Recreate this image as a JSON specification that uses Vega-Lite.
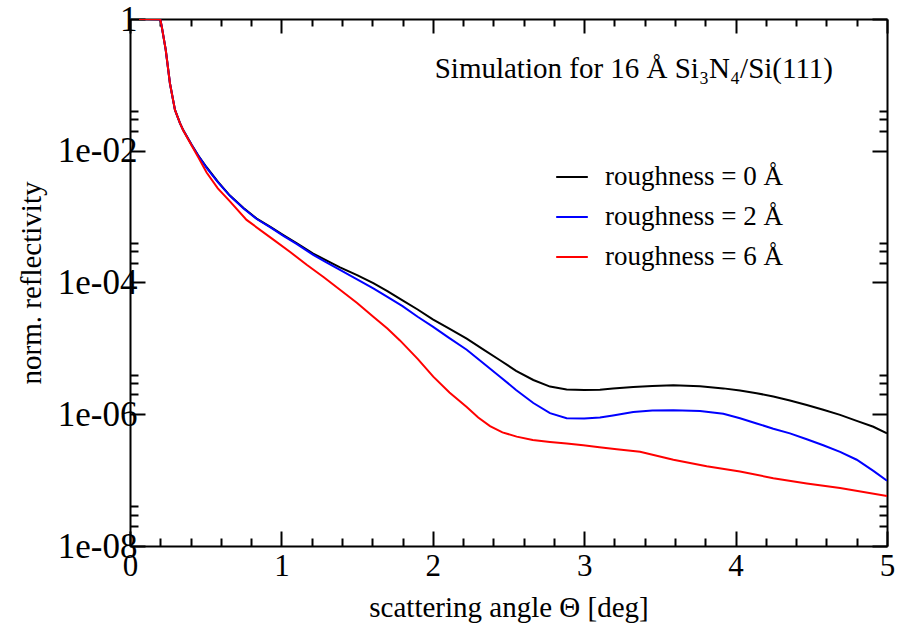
{
  "$schema": "https://vega.github.io/schema/vega-lite/v6.json",
  "width": 757,
  "height": 527,
  "autosize": {"type": "none"},
  "padding": {"left": 130, "top": 19, "right": 12, "bottom": 79},
  "config": {
    "font": "Liberation Serif",
    "view": {"stroke": null},
    "axis": {
      "domainColor": "black", "domainWidth": 2, "tickColor": "black", "tickWidth": 2,
      "labelColor": "black", "labelFont": "Liberation Serif", "labelFontSize": 29,
      "titleColor": "black", "titleFont": "Liberation Serif", "titleFontSize": 29, "titleFontWeight": "normal",
      "grid": false, "labelOverlap": false, "labelFlush": false
    }
  },
  "title": {
    "text": "Simulation for 16 Å Si₃N₄/Si(111)",
    "orient": "top", "anchor": "end", "frame": "group",
    "font": "Liberation Serif", "fontSize": 29, "fontWeight": "normal", "color": "black",
    "baseline": "alphabetic", "offset": 0, "dx": -54, "dy": 105
  },
  "data": {"values": [
    {"s": "roughness = 0 Å", "x": 0.06, "R": 1},
    {"s": "roughness = 0 Å", "x": 0.2, "R": 0.99},
    {"s": "roughness = 0 Å", "x": 0.21, "R": 0.76},
    {"s": "roughness = 0 Å", "x": 0.236, "R": 0.339},
    {"s": "roughness = 0 Å", "x": 0.264, "R": 0.105},
    {"s": "roughness = 0 Å", "x": 0.297, "R": 0.0417},
    {"s": "roughness = 0 Å", "x": 0.33, "R": 0.0263},
    {"s": "roughness = 0 Å", "x": 0.352, "R": 0.0204},
    {"s": "roughness = 0 Å", "x": 0.407, "R": 0.0123},
    {"s": "roughness = 0 Å", "x": 0.45, "R": 0.00851},
    {"s": "roughness = 0 Å", "x": 0.506, "R": 5.62e-3},
    {"s": "roughness = 0 Å", "x": 0.58, "R": 3.39e-3},
    {"s": "roughness = 0 Å", "x": 0.66, "R": 2.09e-3},
    {"s": "roughness = 0 Å", "x": 0.75, "R": 1.35e-3},
    {"s": "roughness = 0 Å", "x": 0.837, "R": 9.33e-4},
    {"s": "roughness = 0 Å", "x": 0.93, "R": 6.92e-4},
    {"s": "roughness = 0 Å", "x": 1.013, "R": 5.25e-4},
    {"s": "roughness = 0 Å", "x": 1.1, "R": 3.98e-4},
    {"s": "roughness = 0 Å", "x": 1.21, "R": 2.75e-4},
    {"s": "roughness = 0 Å", "x": 1.3, "R": 2.14e-4},
    {"s": "roughness = 0 Å", "x": 1.387, "R": 1.70e-4},
    {"s": "roughness = 0 Å", "x": 1.5, "R": 1.29e-4},
    {"s": "roughness = 0 Å", "x": 1.607, "R": 9.77e-5},
    {"s": "roughness = 0 Å", "x": 1.7, "R": 7.41e-5},
    {"s": "roughness = 0 Å", "x": 1.8, "R": 5.37e-5},
    {"s": "roughness = 0 Å", "x": 1.9, "R": 3.89e-5},
    {"s": "roughness = 0 Å", "x": 2.0, "R": 2.75e-5},
    {"s": "roughness = 0 Å", "x": 2.1, "R": 2.04e-5},
    {"s": "roughness = 0 Å", "x": 2.224, "R": 1.41e-5},
    {"s": "roughness = 0 Å", "x": 2.33, "R": 9.77e-6},
    {"s": "roughness = 0 Å", "x": 2.444, "R": 6.61e-6},
    {"s": "roughness = 0 Å", "x": 2.55, "R": 4.57e-6},
    {"s": "roughness = 0 Å", "x": 2.664, "R": 3.31e-6},
    {"s": "roughness = 0 Å", "x": 2.774, "R": 2.63e-6},
    {"s": "roughness = 0 Å", "x": 2.884, "R": 2.38e-6},
    {"s": "roughness = 0 Å", "x": 3.0, "R": 2.33e-6},
    {"s": "roughness = 0 Å", "x": 3.104, "R": 2.36e-6},
    {"s": "roughness = 0 Å", "x": 3.19, "R": 2.45e-6},
    {"s": "roughness = 0 Å", "x": 3.324, "R": 2.6e-6},
    {"s": "roughness = 0 Å", "x": 3.45, "R": 2.69e-6},
    {"s": "roughness = 0 Å", "x": 3.589, "R": 2.75e-6},
    {"s": "roughness = 0 Å", "x": 3.765, "R": 2.66e-6},
    {"s": "roughness = 0 Å", "x": 3.919, "R": 2.47e-6},
    {"s": "roughness = 0 Å", "x": 4.029, "R": 2.29e-6},
    {"s": "roughness = 0 Å", "x": 4.139, "R": 2.09e-6},
    {"s": "roughness = 0 Å", "x": 4.249, "R": 1.86e-6},
    {"s": "roughness = 0 Å", "x": 4.359, "R": 1.62e-6},
    {"s": "roughness = 0 Å", "x": 4.47, "R": 1.38e-6},
    {"s": "roughness = 0 Å", "x": 4.579, "R": 1.17e-6},
    {"s": "roughness = 0 Å", "x": 4.69, "R": 9.77e-7},
    {"s": "roughness = 0 Å", "x": 4.8, "R": 7.94e-7},
    {"s": "roughness = 0 Å", "x": 4.91, "R": 6.46e-7},
    {"s": "roughness = 0 Å", "x": 5.0, "R": 5.13e-7},

    {"s": "roughness = 2 Å", "x": 0.06, "R": 1},
    {"s": "roughness = 2 Å", "x": 0.2, "R": 0.99},
    {"s": "roughness = 2 Å", "x": 0.21, "R": 0.76},
    {"s": "roughness = 2 Å", "x": 0.236, "R": 0.339},
    {"s": "roughness = 2 Å", "x": 0.264, "R": 0.105},
    {"s": "roughness = 2 Å", "x": 0.297, "R": 0.0417},
    {"s": "roughness = 2 Å", "x": 0.33, "R": 0.0263},
    {"s": "roughness = 2 Å", "x": 0.352, "R": 0.0204},
    {"s": "roughness = 2 Å", "x": 0.407, "R": 0.0123},
    {"s": "roughness = 2 Å", "x": 0.45, "R": 0.00845},
    {"s": "roughness = 2 Å", "x": 0.506, "R": 5.50e-3},
    {"s": "roughness = 2 Å", "x": 0.58, "R": 3.35e-3},
    {"s": "roughness = 2 Å", "x": 0.66, "R": 2.07e-3},
    {"s": "roughness = 2 Å", "x": 0.75, "R": 1.33e-3},
    {"s": "roughness = 2 Å", "x": 0.837, "R": 9.2e-4},
    {"s": "roughness = 2 Å", "x": 0.93, "R": 6.8e-4},
    {"s": "roughness = 2 Å", "x": 1.013, "R": 5.1e-4},
    {"s": "roughness = 2 Å", "x": 1.1, "R": 3.85e-4},
    {"s": "roughness = 2 Å", "x": 1.21, "R": 2.63e-4},
    {"s": "roughness = 2 Å", "x": 1.3, "R": 2.0e-4},
    {"s": "roughness = 2 Å", "x": 1.387, "R": 1.55e-4},
    {"s": "roughness = 2 Å", "x": 1.5, "R": 1.12e-4},
    {"s": "roughness = 2 Å", "x": 1.607, "R": 8.13e-5},
    {"s": "roughness = 2 Å", "x": 1.7, "R": 6.03e-5},
    {"s": "roughness = 2 Å", "x": 1.8, "R": 4.37e-5},
    {"s": "roughness = 2 Å", "x": 1.9, "R": 3.02e-5},
    {"s": "roughness = 2 Å", "x": 2.0, "R": 2.14e-5},
    {"s": "roughness = 2 Å", "x": 2.1, "R": 1.48e-5},
    {"s": "roughness = 2 Å", "x": 2.224, "R": 9.55e-6},
    {"s": "roughness = 2 Å", "x": 2.33, "R": 6.03e-6},
    {"s": "roughness = 2 Å", "x": 2.444, "R": 3.72e-6},
    {"s": "roughness = 2 Å", "x": 2.55, "R": 2.34e-6},
    {"s": "roughness = 2 Å", "x": 2.664, "R": 1.48e-6},
    {"s": "roughness = 2 Å", "x": 2.774, "R": 1.04e-6},
    {"s": "roughness = 2 Å", "x": 2.884, "R": 8.71e-7},
    {"s": "roughness = 2 Å", "x": 3.0, "R": 8.6e-7},
    {"s": "roughness = 2 Å", "x": 3.104, "R": 8.91e-7},
    {"s": "roughness = 2 Å", "x": 3.19, "R": 9.6e-7},
    {"s": "roughness = 2 Å", "x": 3.324, "R": 1.08e-6},
    {"s": "roughness = 2 Å", "x": 3.45, "R": 1.14e-6},
    {"s": "roughness = 2 Å", "x": 3.589, "R": 1.15e-6},
    {"s": "roughness = 2 Å", "x": 3.765, "R": 1.12e-6},
    {"s": "roughness = 2 Å", "x": 3.919, "R": 1.02e-6},
    {"s": "roughness = 2 Å", "x": 4.029, "R": 8.71e-7},
    {"s": "roughness = 2 Å", "x": 4.139, "R": 7.24e-7},
    {"s": "roughness = 2 Å", "x": 4.249, "R": 6.03e-7},
    {"s": "roughness = 2 Å", "x": 4.359, "R": 5.13e-7},
    {"s": "roughness = 2 Å", "x": 4.47, "R": 4.17e-7},
    {"s": "roughness = 2 Å", "x": 4.579, "R": 3.39e-7},
    {"s": "roughness = 2 Å", "x": 4.69, "R": 2.69e-7},
    {"s": "roughness = 2 Å", "x": 4.8, "R": 2.04e-7},
    {"s": "roughness = 2 Å", "x": 4.91, "R": 1.38e-7},
    {"s": "roughness = 2 Å", "x": 5.0, "R": 9.77e-8},

    {"s": "roughness = 6 Å", "x": 0.06, "R": 1},
    {"s": "roughness = 6 Å", "x": 0.2, "R": 0.99},
    {"s": "roughness = 6 Å", "x": 0.21, "R": 0.76},
    {"s": "roughness = 6 Å", "x": 0.236, "R": 0.339},
    {"s": "roughness = 6 Å", "x": 0.264, "R": 0.105},
    {"s": "roughness = 6 Å", "x": 0.297, "R": 0.0417},
    {"s": "roughness = 6 Å", "x": 0.33, "R": 0.0263},
    {"s": "roughness = 6 Å", "x": 0.352, "R": 0.0203},
    {"s": "roughness = 6 Å", "x": 0.407, "R": 0.0120},
    {"s": "roughness = 6 Å", "x": 0.45, "R": 0.0080},
    {"s": "roughness = 6 Å", "x": 0.506, "R": 4.68e-3},
    {"s": "roughness = 6 Å", "x": 0.58, "R": 2.69e-3},
    {"s": "roughness = 6 Å", "x": 0.66, "R": 1.70e-3},
    {"s": "roughness = 6 Å", "x": 0.77, "R": 8.91e-4},
    {"s": "roughness = 6 Å", "x": 0.947, "R": 4.47e-4},
    {"s": "roughness = 6 Å", "x": 1.06, "R": 2.88e-4},
    {"s": "roughness = 6 Å", "x": 1.167, "R": 1.86e-4},
    {"s": "roughness = 6 Å", "x": 1.28, "R": 1.20e-4},
    {"s": "roughness = 6 Å", "x": 1.387, "R": 7.76e-5},
    {"s": "roughness = 6 Å", "x": 1.5, "R": 4.90e-5},
    {"s": "roughness = 6 Å", "x": 1.607, "R": 3.02e-5},
    {"s": "roughness = 6 Å", "x": 1.7, "R": 2.0e-5},
    {"s": "roughness = 6 Å", "x": 1.783, "R": 1.32e-5},
    {"s": "roughness = 6 Å", "x": 1.9, "R": 6.92e-6},
    {"s": "roughness = 6 Å", "x": 2.003, "R": 3.72e-6},
    {"s": "roughness = 6 Å", "x": 2.11, "R": 2.14e-6},
    {"s": "roughness = 6 Å", "x": 2.224, "R": 1.29e-6},
    {"s": "roughness = 6 Å", "x": 2.3, "R": 8.91e-7},
    {"s": "roughness = 6 Å", "x": 2.378, "R": 6.6e-7},
    {"s": "roughness = 6 Å", "x": 2.46, "R": 5.3e-7},
    {"s": "roughness = 6 Å", "x": 2.554, "R": 4.57e-7},
    {"s": "roughness = 6 Å", "x": 2.66, "R": 4.07e-7},
    {"s": "roughness = 6 Å", "x": 2.774, "R": 3.80e-7},
    {"s": "roughness = 6 Å", "x": 2.884, "R": 3.59e-7},
    {"s": "roughness = 6 Å", "x": 2.994, "R": 3.39e-7},
    {"s": "roughness = 6 Å", "x": 3.1, "R": 3.16e-7},
    {"s": "roughness = 6 Å", "x": 3.215, "R": 2.95e-7},
    {"s": "roughness = 6 Å", "x": 3.369, "R": 2.69e-7},
    {"s": "roughness = 6 Å", "x": 3.589, "R": 2.04e-7},
    {"s": "roughness = 6 Å", "x": 3.809, "R": 1.62e-7},
    {"s": "roughness = 6 Å", "x": 4.029, "R": 1.35e-7},
    {"s": "roughness = 6 Å", "x": 4.249, "R": 1.07e-7},
    {"s": "roughness = 6 Å", "x": 4.47, "R": 8.91e-8},
    {"s": "roughness = 6 Å", "x": 4.69, "R": 7.59e-8},
    {"s": "roughness = 6 Å", "x": 5.0, "R": 5.75e-8}
  ]},
  "resolve": {"axis": {"x": "independent", "y": "independent"}},
  "layer": [
    {
      "mark": {"type": "line", "strokeWidth": 2, "clip": true},
      "encoding": {
        "x": {
          "field": "x", "type": "quantitative",
          "scale": {"domain": [0, 5], "nice": false, "zero": false},
          "axis": {
            "orient": "bottom",
            "title": "scattering angle Θ [deg]",
            "titleFontSize": 29, "labelFontSize": 31, "labelFont": "Liberation Serif",
            "values": [0, 0.2, 0.4, 0.6, 0.8, 1, 1.2, 1.4, 1.6, 1.8, 2, 2.2, 2.4, 2.6, 2.8, 3, 3.2, 3.4, 3.6, 3.8, 4, 4.2, 4.4, 4.6, 4.8, 5],
            "labelExpr": "abs(datum.value - round(datum.value)) < 0.001 ? format(datum.value, 'd') : ''",
            "tickSize": {"condition": {"test": "abs(datum.value - round(datum.value)) < 0.001", "value": -15}, "value": -8},
            "labelPadding": 20,
            "titlePadding": 5
          }
        },
        "y": {
          "field": "R", "type": "quantitative",
          "scale": {"type": "log", "domain": [1e-8, 1], "nice": false},
          "axis": {
            "orient": "left",
            "title": "norm. reflectivity",
            "titleFontSize": 29, "labelFontSize": 35, "labelFont": "Liberation Serif",
            "values": [1e-8, 2e-8, 3e-8, 4e-8, 1e-6, 2e-6, 3e-6, 4e-6, 1e-4, 2e-4, 3e-4, 4e-4, 1e-2, 2e-2, 3e-2, 4e-2, 1],
            "labelExpr": "datum.value > 0.5 ? '1' : (abs(log(datum.value)/LN10 - round(log(datum.value)/LN10)) < 0.01 ? '1e-0' + (-round(log(datum.value)/LN10)) : '')",
            "tickSize": {"condition": {"test": "abs(log(datum.value)/LN10 - round(log(datum.value)/LN10)) < 0.01", "value": -15}, "value": -8},
            "labelPadding": 8,
            "titlePadding": 11
          }
        },
        "color": {
          "field": "s", "type": "nominal",
          "scale": {"domain": ["roughness = 0 Å", "roughness = 2 Å", "roughness = 6 Å"], "range": ["#000000", "#0000ff", "#ff0000"]},
          "legend": {
            "orient": "none", "legendX": 425, "legendY": 141, "title": null, "padding": 0,
            "symbolType": "stroke", "symbolSize": 1000, "symbolStrokeWidth": 2,
            "labelFont": "Liberation Serif", "labelFontSize": 27, "labelColor": "black",
            "labelOffset": 16, "rowPadding": 10, "labelLimit": 0
          }
        }
      }
    },
    {
      "mark": {"type": "line", "opacity": 0},
      "encoding": {
        "x": {
          "field": "x", "type": "quantitative",
          "axis": {
            "orient": "top", "title": null, "labels": false,
            "values": [0, 0.2, 0.4, 0.6, 0.8, 1, 1.2, 1.4, 1.6, 1.8, 2, 2.2, 2.4, 2.6, 2.8, 3, 3.2, 3.4, 3.6, 3.8, 4, 4.2, 4.4, 4.6, 4.8, 5],
            "tickSize": {"condition": {"test": "abs(datum.value - round(datum.value)) < 0.001", "value": -14}, "value": -7}
          }
        },
        "y": {
          "field": "R", "type": "quantitative",
          "axis": {
            "orient": "right", "title": null, "labels": false,
            "values": [1e-8, 2e-8, 3e-8, 4e-8, 1e-6, 2e-6, 3e-6, 4e-6, 1e-4, 2e-4, 3e-4, 4e-4, 1e-2, 2e-2, 3e-2, 4e-2, 1],
            "tickSize": {"condition": {"test": "abs(log(datum.value)/LN10 - round(log(datum.value)/LN10)) < 0.01", "value": -15}, "value": -8}
          }
        },
        "detail": {"field": "s", "type": "nominal"}
      }
    }
  ]
}
